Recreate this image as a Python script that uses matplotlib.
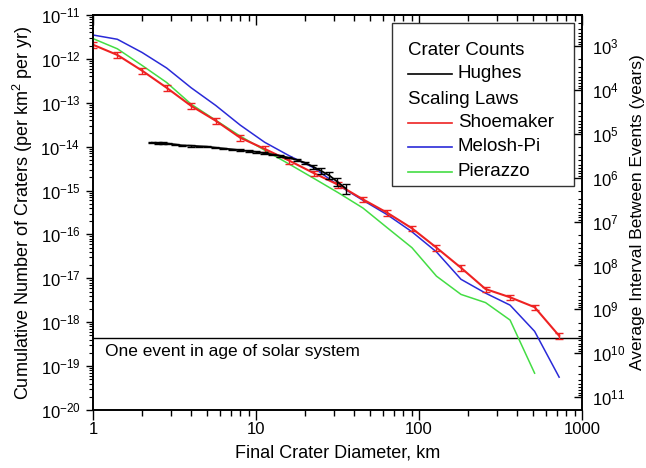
import numpy as np
import matplotlib
matplotlib.use("Agg")
import matplotlib.pyplot as plt
from matplotlib.ticker import LogLocator, NullFormatter, FixedLocator
from matplotlib.patches import Rectangle

plt.rcParams['font.family'] = ['Liberation Sans', 'DejaVu Sans']
plt.rcParams['mathtext.fontset'] = 'custom'
plt.rcParams['mathtext.rm'] = 'Liberation Sans'
plt.rcParams['mathtext.it'] = 'Liberation Sans:italic'
plt.rcParams['mathtext.bf'] = 'Liberation Sans:bold'
plt.rcParams['axes.unicode_minus'] = False

# ---------------- data ----------------
shoemaker_d = [1, 1.41, 2, 2.83, 4, 5.66, 8, 11.3, 16, 22.6, 32, 45.3, 64, 90.5,
               128, 181, 256, 362, 512, 724]
shoemaker_n = [2.1e-12, 1.23e-12, 5.4e-13, 2.2e-13, 8.5e-14, 3.9e-14, 1.6e-14,
               8.9e-15, 4.8e-15, 2.5e-15, 1.35e-15, 6.3e-16, 3.1e-16, 1.38e-16,
               5.0e-17, 1.74e-17, 5.7e-18, 3.7e-18, 2.2e-18, 4.9e-19]
shoemaker_relerr = [0.14] * 20

melosh_d = [1, 1.41, 2, 2.83, 4, 5.66, 8, 11.3, 16, 22.6, 32, 45.3, 64, 90.5,
            128, 181, 256, 362, 512, 724]
melosh_n = [3.5e-12, 2.8e-12, 1.4e-12, 6.2e-13, 2.2e-13, 8.7e-14, 3.1e-14,
            1.26e-14, 6.2e-15, 3.3e-15, 1.32e-15, 6.0e-16, 2.8e-16, 1.15e-16,
            4.0e-17, 9.5e-18, 4.6e-18, 2.45e-18, 6.2e-19, 5.6e-20]

pierazzo_d = [1, 1.41, 2, 2.83, 4, 5.66, 8, 11.3, 16, 22.6, 32, 45.3, 64, 90.5,
              128, 181, 256, 362, 512]
pierazzo_n = [2.9e-12, 1.7e-12, 7.1e-13, 2.9e-13, 9.3e-14, 4.0e-14, 1.74e-14,
              8.3e-15, 4.0e-15, 1.9e-15, 8.9e-16, 4.0e-16, 1.41e-16, 5.0e-17,
              1.12e-17, 4.3e-18, 2.8e-18, 1.12e-18, 6.9e-20]

hughes_d = [2.3, 2.5, 2.7, 2.9, 3.2, 3.5, 4.0, 4.5, 5.0, 5.6, 6.3, 7.1, 8.0, 9.0,
            10.0, 11.2, 12.6, 14.1, 15.8, 17.8, 20.0, 22.4, 25.1, 28.2, 31.6, 35.5]
hughes_n = [1.23e-14, 1.2e-14, 1.2e-14, 1.17e-14, 1.12e-14, 1.07e-14, 1.05e-14,
            1.02e-14, 1.0e-14, 9.5e-15, 9.1e-15, 8.7e-15, 8.3e-15, 7.9e-15,
            7.6e-15, 7.1e-15, 6.6e-15, 6.2e-15, 5.6e-15, 5.0e-15, 4.3e-15,
            3.5e-15, 2.8e-15, 2.2e-15, 1.58e-15, 1.12e-15]
hughes_relerr = [0.04] * 21 + [0.1, 0.15, 0.18, 0.2, 0.25]

earth_area_km2 = 5.1e8
solar_system_age_yr = 4.5e9
one_event_n = 1.0 / (earth_area_km2 * solar_system_age_yr)

x_ticks = [1, 10, 100, 1000]
x_ticklabels = ['1', '10', '100', '1000']

# ---------------- figure ----------------
fig = plt.figure(figsize=(6.46, 4.68), dpi=100)
ax = fig.add_axes([93 / 646, 1 - 410 / 468, 489 / 646, 395 / 468])

ax.set_xscale('log')
ax.set_yscale('log')
ax.set_xlim(1, 1000)
ax.set_ylim(1e-20, 1e-11)

red = '#ee2222'
blue = '#2a2ad8'
green = '#44dd44'

ax.plot(pierazzo_d, pierazzo_n, color=green, lw=1.1, zorder=3)
ax.plot(melosh_d, melosh_n, color=blue, lw=1.1, zorder=3)

s_n = np.array(shoemaker_n)
ax.errorbar(shoemaker_d, s_n, yerr=s_n * np.array(shoemaker_relerr),
            color=red, lw=1.5, elinewidth=1.0, capsize=3.2, capthick=1.0, zorder=4)

h_n = np.array(hughes_n)
ax.errorbar(hughes_d, h_n, yerr=h_n * np.array(hughes_relerr),
            color='black', lw=1.3, elinewidth=1.0, capsize=3, capthick=1.0, zorder=5)

ax.axhline(one_event_n, color='black', lw=1.0, zorder=2)
ax.annotate('One event in age of solar system', xy=(0.025, one_event_n),
            xycoords=ax.get_yaxis_transform(), xytext=(0, -4),
            textcoords='offset points', ha='left', va='top', fontsize=12.5)

# ticks
ax.xaxis.set_major_locator(FixedLocator(x_ticks))
ax.set_xticklabels(x_ticklabels)
ax.xaxis.set_minor_locator(LogLocator(base=10, subs=np.arange(2, 10), numticks=20))
ax.xaxis.set_minor_formatter(NullFormatter())
ax.yaxis.set_major_locator(LogLocator(base=10, numticks=20))
ax.yaxis.set_minor_locator(LogLocator(base=10, subs=np.arange(2, 10), numticks=40))
ax.yaxis.set_minor_formatter(NullFormatter())

ax.tick_params(axis='x', which='major', direction='out', length=7, width=1.0,
               labelsize=12, pad=2, top=False)
ax.tick_params(axis='x', which='minor', direction='out', length=4, width=1.0, top=False)
ax.tick_params(axis='y', which='major', direction='out', length=5, width=1.0,
               labelsize=12, pad=4, right=False)
ax.tick_params(axis='y', which='minor', direction='out', length=3, width=0.8, right=False)

# top axis ticks (inward)
secx = ax.secondary_xaxis('top')
secx.set_xscale('log')
secx.xaxis.set_major_locator(FixedLocator(x_ticks))
secx.xaxis.set_minor_locator(LogLocator(base=10, subs=np.arange(2, 10), numticks=20))
secx.xaxis.set_minor_formatter(NullFormatter())
secx.tick_params(axis='x', which='major', direction='in', length=7, width=1.0,
                 labeltop=False)
secx.tick_params(axis='x', which='minor', direction='in', length=4, width=1.0)
secx.spines['top'].set_linewidth(1.2)

# right axis: average interval between events
ax2 = ax.twinx()
ax2.set_yscale('log')
ax2.set_ylim(1.0 / (earth_area_km2 * 1e-20), 1.0 / (earth_area_km2 * 1e-11))
ax2.yaxis.set_major_locator(LogLocator(base=10, numticks=20))
ax2.yaxis.set_minor_locator(LogLocator(base=10, subs=np.arange(2, 10), numticks=40))
ax2.yaxis.set_minor_formatter(NullFormatter())
ax2.tick_params(axis='y', which='major', direction='in', length=6, width=1.0,
                labelsize=12, pad=7)
ax2.tick_params(axis='y', which='minor', direction='in', length=3, width=0.8)
ax2.set_ylabel('Average Interval Between Events (years)', fontsize=12.5, labelpad=4)

for a in (ax, ax2):
    for sp in a.spines.values():
        sp.set_linewidth(1.2)

ax.set_xlabel('Final Crater Diameter, km', fontsize=13, labelpad=5)
ax.set_ylabel('Cumulative Number of Craters (per km$^2$ per yr)', fontsize=13,
              labelpad=4)

# legend (drawn manually in axes coordinates)
leg_box = Rectangle((0.611, 0.567), 0.373, 0.413, transform=ax.transAxes,
                    facecolor='white', edgecolor='#333333', lw=1.0, zorder=10)
ax.add_patch(leg_box)
legend_rows = [
    ('Crater Counts', None, 0.910),
    ('Hughes', 'black', 0.851),
    ('Scaling Laws', None, 0.787),
    ('Shoemaker', red, 0.727),
    ('Melosh-Pi', blue, 0.667),
    ('Pierazzo', green, 0.603),
]
for label, col, yy in legend_rows:
    if col is None:
        ax.text(0.644, yy, label, transform=ax.transAxes, ha='left', va='center',
                fontsize=13.5, zorder=11)
    else:
        ax.plot([0.644, 0.734], [yy, yy], transform=ax.transAxes, color=col,
                lw=1.2, zorder=11, clip_on=False)
        ax.text(0.746, yy, label, transform=ax.transAxes, ha='left', va='center',
                fontsize=13.5, zorder=11)

fig.savefig('out.png', dpi=100)
